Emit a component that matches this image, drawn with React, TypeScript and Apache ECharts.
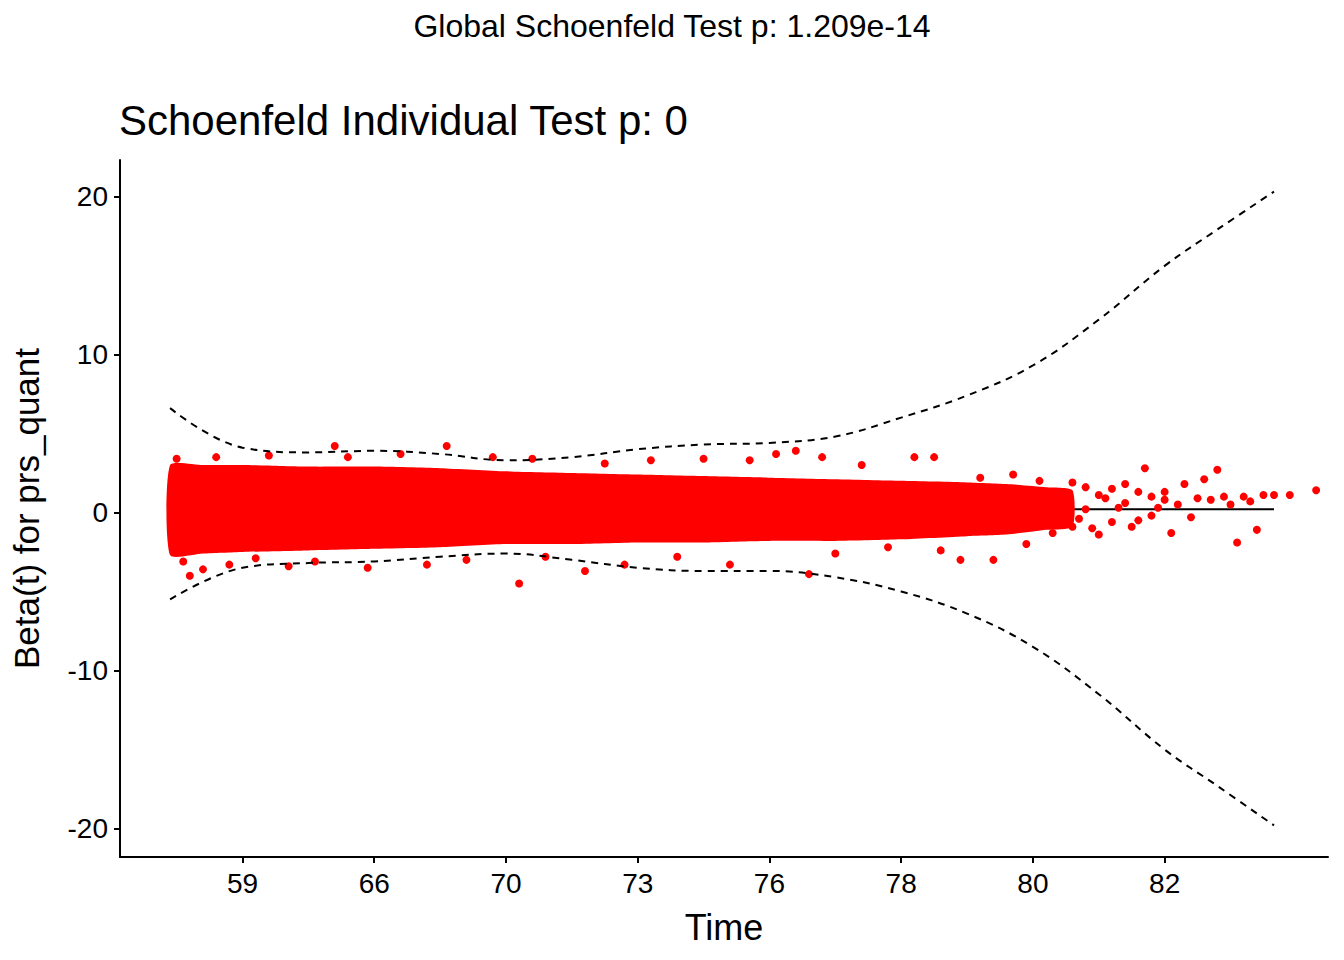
import { useEffect, useRef } from 'react';
import * as echarts from 'echarts';

// x is the transformed time scale: tick i sits at position i
const tickLabels = ['59', '66', '70', '73', '76', '78', '80', '82'];
const tickPos = [0, 1, 2, 3, 4, 5, 6, 7];
const yTicks = [-20, -10, 0, 10, 20];

const curveX = [-0.55, 0, 0.5, 1, 1.5, 2, 2.5, 3, 3.5, 4, 4.5, 5, 5.5, 6, 6.5, 7, 7.4, 7.83];
const upperCI = [6.6, 4.1, 3.8, 3.9, 3.7, 3.3, 3.5, 4.0, 4.3, 4.4, 4.8, 6.0, 7.4, 9.3, 12.2, 15.6, 17.9, 20.3];
const lowerCI = [-5.5, -3.5, -3.2, -3.1, -2.8, -2.6, -3.0, -3.5, -3.7, -3.7, -4.1, -5.0, -6.4, -8.5, -11.5, -15.0, -17.3, -19.8];
const fitBeta = curveX.map(() => 0.2);

// dense residual cloud envelope
const bandX = [-0.55, -0.3, 0, 0.5, 1, 1.5, 2, 2.5, 3, 3.5, 4, 4.5, 5, 5.5, 5.8, 6.1, 6.3];
const bandTop = [3.0, 3.0, 3.0, 2.9, 2.9, 2.8, 2.6, 2.5, 2.4, 2.3, 2.2, 2.1, 2.0, 1.9, 1.8, 1.6, 1.4];
const bandBottom = [-2.7, -2.6, -2.5, -2.4, -2.3, -2.2, -2.0, -2.0, -1.9, -1.9, -1.8, -1.8, -1.7, -1.5, -1.4, -1.1, -0.9];

// sparse residuals outside the cloud
const pts: [number, number][] = [
  [-0.5, 3.4], [-0.45, -3.1], [-0.4, -4.0], [-0.3, -3.6], [-0.2, 3.5], [-0.1, -3.3], [0.2, 3.6], [0.1, -2.9],
  [0.35, -3.4], [0.55, -3.1], [0.7, 4.2], [0.8, 3.5], [0.95, -3.5], [1.2, 3.7], [1.4, -3.3], [1.55, 4.2],
  [1.7, -3.0], [1.9, 3.5], [2.1, -4.5], [2.2, 3.4], [2.3, -2.8], [2.6, -3.7], [2.75, 3.1], [2.9, -3.3],
  [3.1, 3.3], [3.3, -2.8], [3.5, 3.4], [3.7, -3.3], [3.85, 3.3], [4.05, 3.7], [4.2, 3.9], [4.3, -3.9],
  [4.4, 3.5], [4.5, -2.6], [4.7, 3.0], [4.9, -2.2], [5.1, 3.5], [5.25, 3.5], [5.3, -2.4], [5.45, -3.0],
  [5.6, 2.2], [5.7, -3.0], [5.85, 2.4], [5.95, -2.0], [6.05, 2.0], [6.15, -1.3], [6.3, 1.9], [6.4, 1.6],
  [6.45, -1.0], [6.55, 0.9], [6.6, 1.5], [6.7, 1.8], [6.75, -0.9], [6.85, 2.8], [6.9, 1.0], [6.95, 0.3],
  [7.0, 1.3], [7.05, -1.3], [7.1, 0.5], [7.15, 1.8], [7.2, -0.3], [7.3, 2.1], [7.35, 0.8], [7.4, 2.7],
  [7.45, 1.0], [7.5, 0.5], [7.55, -1.9], [7.6, 1.0], [7.65, 0.7], [7.7, -1.1], [7.75, 1.1], [7.83, 1.1],
  [7.95, 1.1], [8.15, 1.4], [6.5, -1.4], [6.2, 0.6], [6.35, -0.4], [6.65, 0.3], [6.8, -0.5], [7.25, 0.9],
  [6.3, -0.9], [6.4, 0.2], [6.5, 1.1], [6.6, -0.6], [6.7, 0.6], [6.8, 1.3], [6.9, -0.2], [7.0, 0.8],
];

const font = '"Liberation Sans", Arial, sans-serif';

export default function App() {
  const ref = useRef<HTMLDivElement>(null);

  useEffect(() => {
    if (!ref.current) return;
    const chart = echarts.init(ref.current, undefined, { renderer: 'svg' });
    const zip = (xs: number[], ys: number[]) => xs.map((x, i) => [x, ys[i]]);

    chart.setOption({
      animation: false,
      backgroundColor: '#fff',
      textStyle: { fontFamily: font },
      title: [
        { text: 'Global Schoenfeld Test p: 1.209e-14', left: 'center', top: -3, textStyle: { fontSize: 32, fontWeight: 'normal', color: '#000', fontFamily: font } },
        { text: 'Schoenfeld Individual Test p: 0', left: 106, top: 86, textStyle: { fontSize: 42, fontWeight: 'normal', color: '#000', fontFamily: font } },
      ],
      grid: { left: 112, right: 8, top: 152, bottom: 95, outerBoundsMode: 'none', containLabel: false },
      xAxis: {
        type: 'value', min: -0.93, max: 8.24,
        name: 'Time', nameLocation: 'middle', nameGap: 52,
        nameTextStyle: { fontSize: 36, color: '#000' },
        axisLine: { onZero: false, lineStyle: { color: '#000', width: 2 } },
        axisTick: { show: true, customValues: tickPos, length: 6, lineStyle: { color: '#000', width: 2 } },
        axisLabel: { customValues: tickPos, formatter: (v: number) => tickLabels[Math.round(v)] ?? '', fontSize: 28, color: '#000', margin: 12 },
        splitLine: { show: false },
      },
      yAxis: {
        type: 'value', min: -21.8, max: 22.3,
        name: 'Beta(t) for prs_quant', nameLocation: 'middle', nameGap: 76,
        nameTextStyle: { fontSize: 35, color: '#000' },
        axisLine: { show: true, onZero: false, lineStyle: { color: '#000', width: 2 } },
        axisTick: { show: true, customValues: yTicks, length: 6, lineStyle: { color: '#000', width: 2 } },
        axisLabel: { customValues: yTicks, fontSize: 28, color: '#000', margin: 12 },
        splitLine: { show: false },
      },
      series: [
        {
          type: 'custom', silent: true, z: 2,
          data: bandX.map((x, i) => [x, bandTop[i], bandBottom[i]]),
          renderItem: (params: any, api: any) => {
            if (params.dataIndex !== 0) return null;
            const top = bandX.map((x, i) => api.coord([x, bandTop[i]]));
            const bot = bandX.map((x, i) => api.coord([x, bandBottom[i]])).reverse();
            return { type: 'polygon', shape: { points: top.concat(bot), smooth: 0.2 }, style: { fill: '#FF0000' } };
          },
        },
        { type: 'scatter', data: pts, symbolSize: 8, itemStyle: { color: '#FF0000', opacity: 1 }, z: 2 },
        { type: 'line', data: zip(curveX, fitBeta), symbol: 'none', lineStyle: { color: '#000', width: 2 }, z: 1 },
        { type: 'line', data: zip(curveX, upperCI), symbol: 'none', smooth: 0.4, lineStyle: { color: '#000', width: 2, type: [7, 6] }, z: 3 },
        { type: 'line', data: zip(curveX, lowerCI), symbol: 'none', smooth: 0.4, lineStyle: { color: '#000', width: 2, type: [7, 6] }, z: 3 },
      ],
    });
    return () => chart.dispose();
  }, []);

  return <div ref={ref} style={{ width: 1328, height: 944 }} />;
}
